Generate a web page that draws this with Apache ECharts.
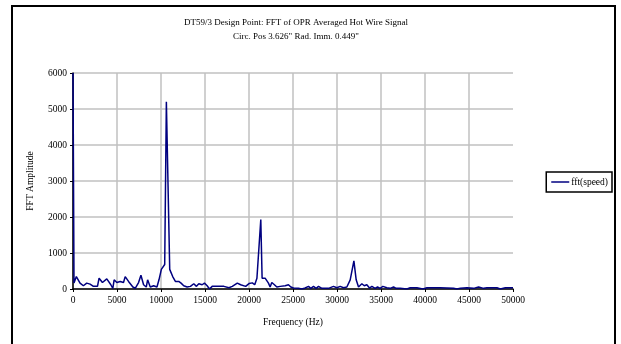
<!DOCTYPE html>
<html><head><meta charset="utf-8">
<script src="https://cdn.jsdelivr.net/npm/echarts@6/dist/echarts.min.js"></script>
<style>html,body{margin:0;padding:0;background:#fff}#c{width:621px;height:344px}</style>
</head><body><div id="c"></div>
<script>
const titleLines = ['DT59/3 Design Point: FFT of OPR Averaged Hot Wire Signal', 'Circ. Pos 3.626" Rad. Imm. 0.449"'];
const seriesName = 'fft(speed)';
const xAxisName = 'Frequency (Hz)';
const yAxisName = 'FFT Amplitude';
const freqHz = [0,114,380,800,1180,1560,1940,2320,2780,2965,3345,3840,4300,4525,4675,4980,5360,5740,5930,6310,6805,7070,7450,7720,8020,8325,8480,8780,9160,9540,9770,10040,10420,10610,10990,11330,11635,12015,12280,12585,12775,12965,13345,13725,14030,14295,14675,14940,15245,15510,15815,17150,17715,18100,18290,18670,19050,19620,20000,20380,20650,20900,21340,21490,21830,22210,22400,22590,22890,23160,23540,24110,24485,24750,25055,25620,26000,26380,26760,27025,27330,27630,27900,28275,29035,29600,29980,30360,30740,31120,31500,31920,32180,32445,32825,33100,33390,33695,33960,34340,34605,34910,35210,35665,36045,36425,36730,37180,37940,38320,39080,39760,40220,41730,43250,43630,44010,44770,45525,46090,46660,47040,48180,48555,49125,49690,50000];
const amplitude = [6000,164,345,164,90,164,136,73,73,300,180,280,118,20,255,180,210,180,345,210,55,20,180,380,118,55,255,55,90,55,255,545,680,5200,545,345,210,210,164,90,145,55,73,145,73,145,118,164,90,0,73,73,36,73,27,164,118,73,150,170,118,300,1930,300,300,164,55,180,118,55,73,90,118,55,27,18,0,27,73,18,73,18,73,18,18,73,36,73,36,55,255,780,255,55,145,90,118,27,73,18,55,18,73,36,18,55,18,18,0,36,36,0,36,36,18,0,18,36,18,55,18,36,36,0,36,36,36];
const xTicks = {min:0, max:50000, interval:5000};
const yTicks = {min:0, max:6000, interval:1000};

const data = freqHz.map((f,i)=>[f, amplitude[i]]);
const font = 'Liberation Serif';
const plain = v => String(v);
const chart = echarts.init(document.getElementById('c'), null, {renderer:'canvas'});
chart.setOption({
  backgroundColor:'#fff',
  animation:false,
  title:{text:titleLines.join('\n'), left:291, top:11, textAlign:'center',
    textStyle:{fontFamily:font, fontSize:9, fontWeight:'normal', color:'#000', lineHeight:14}},
  legend:{data:[{name:seriesName, icon:'rect'}], right:9, top:172, orient:'vertical',
    borderColor:'#000', borderWidth:1.5, padding:[5,4,5,5], itemWidth:18, itemHeight:1.5, itemGap:0,
    textStyle:{fontFamily:font, fontSize:9.5, color:'#000', padding:[0,0,0,-3]}},
  grid:{left:73, right:108, top:73, bottom:55, containLabel:false},
  xAxis:{type:'value', min:xTicks.min, max:xTicks.max, interval:xTicks.interval,
    name:xAxisName, nameLocation:'middle', nameGap:28,
    nameTextStyle:{fontFamily:font, fontSize:9.5, color:'#000'},
    axisLine:{show:true, onZero:false, lineStyle:{color:'#000', width:1.5}},
    axisTick:{show:true, length:3, lineStyle:{color:'#000'}},
    axisLabel:{fontFamily:font, fontSize:9.5, color:'#000', margin:6, formatter:plain},
    splitLine:{show:true, showMaxLine:false, lineStyle:{color:'#c0c0c0', width:1.5}}},
  yAxis:{type:'value', min:yTicks.min, max:yTicks.max, interval:yTicks.interval,
    name:yAxisName, nameLocation:'middle', nameGap:38, nameRotate:90,
    nameTextStyle:{fontFamily:font, fontSize:9.5, color:'#000'},
    axisLine:{show:true, lineStyle:{color:'#000', width:1.5}},
    axisTick:{show:true, length:3, lineStyle:{color:'#000'}},
    axisLabel:{fontFamily:font, fontSize:9.5, color:'#000', margin:6, formatter:plain},
    splitLine:{show:true, lineStyle:{color:'#c0c0c0', width:1.5}}},
  series:[{name:seriesName, type:'line', data:data, symbol:'none', showSymbol:false,
    clip:true, lineStyle:{color:'#000080', width:1.5}, itemStyle:{color:'#000080'}}],
  graphic:[{type:'rect', shape:{x:12, y:6, width:603, height:400}, silent:true, z:100,
    style:{fill:null, stroke:'#000', lineWidth:2}}]
});
</script></body></html>
